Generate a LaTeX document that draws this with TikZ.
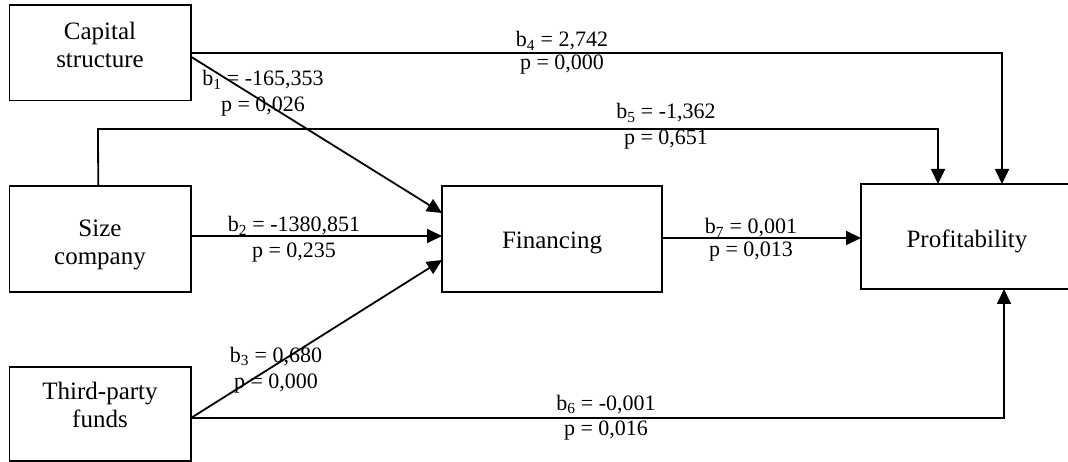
\documentclass[tikz,border=0pt]{standalone}
\usepackage{fontspec}
\setmainfont{Liberation Serif}
\usetikzlibrary{arrows.meta}
\tikzset{
  box/.style={draw, line width=1.8pt, inner sep=0pt, outer sep=0pt},
  boxtext/.style={align=center, inner sep=0pt, font=\fontsize{25}{28}\selectfont},
  lab/.style={anchor=base, inner sep=0pt, font=\fontsize{22}{25}\selectfont},
  conn/.style={line width=1.8pt},
  arr/.style={conn, -{Triangle[length=15pt,width=14pt]}}
}
\begin{document}
\begin{tikzpicture}[x=1pt,y=-1pt]
\useasboundingbox (0,0) rectangle (1068,462);
\clip (0,0) rectangle (1068,462);
% boxes
\node[box, minimum width=181.5, minimum height=95.5] (cap) at (100.25,52.75) {};
\node[box, minimum width=181.5, minimum height=106] (size) at (100.25,239) {};
\node[box, minimum width=181.5, minimum height=94] (third) at (100.25,414) {};
\node[box, minimum width=220, minimum height=106] (fin) at (552,239) {};
\node[box, minimum width=212, minimum height=105] (prof) at (967,236.5) {};
% box texts
\node[boxtext] (capt) at (100,45) {Capital\\structure};
\node[boxtext] (sizet) at (100,245) {Size\\company};
\node[boxtext] (thirdt) at (100,404.5) {Third-party\\funds};
\node[boxtext] (fint) at (552,243) {Financing};
\node[boxtext] (proft) at (967,241) {Profitability};
% connectors
\draw[arr] (cap.east) -| ([xshift=35]prof.north);
\coordinate (s5) at (98,129);
\draw[arr] ([xshift=-2]size.north) -- (s5) -| ([xshift=-29]prof.north);
\draw[arr] ([yshift=-4]cap.east) -- ([yshift=26]fin.west);
\draw[arr] ([yshift=3]size.east) -- ([yshift=3]fin.west);
\draw[arr] ([yshift=-4]third.east) -- ([yshift=-21]fin.west);
\draw[arr] ([yshift=-4]third.east) -| ([xshift=37]prof.south);
\draw[arr] ([yshift=1]fin.east) -- ([yshift=1]fin.east -| prof.west);
% labels
\node[lab] (b1) at (263,86) {b\textsubscript{1} = -165,353};
\node[lab] (p1) at (263,111.5) {p = 0,026};
\node[lab] (b4) at (562,47) {b\textsubscript{4} = 2,742};
\node[lab] (p4) at (562,70) {p = 0,000};
\node[lab] (b5) at (666,119) {b\textsubscript{5} = -1,362};
\node[lab] (p5) at (666,145) {p = 0,651};
\node[lab] (b2) at (294,232) {b\textsubscript{2} = -1380,851};
\node[lab] (p2) at (294,258) {p = 0,235};
\node[lab] (b7) at (751,234) {b\textsubscript{7} = 0,001};
\node[lab] (p7) at (751,257) {p = 0,013};
\node[lab] (b3) at (276,362) {b\textsubscript{3} = 0,680};
\node[lab] (p3) at (276,388) {p = 0,000};
\node[lab] (b6) at (606,410) {b\textsubscript{6} = -0,001};
\node[lab] (p6) at (606,435) {p = 0,016};
\end{tikzpicture}
\end{document}
